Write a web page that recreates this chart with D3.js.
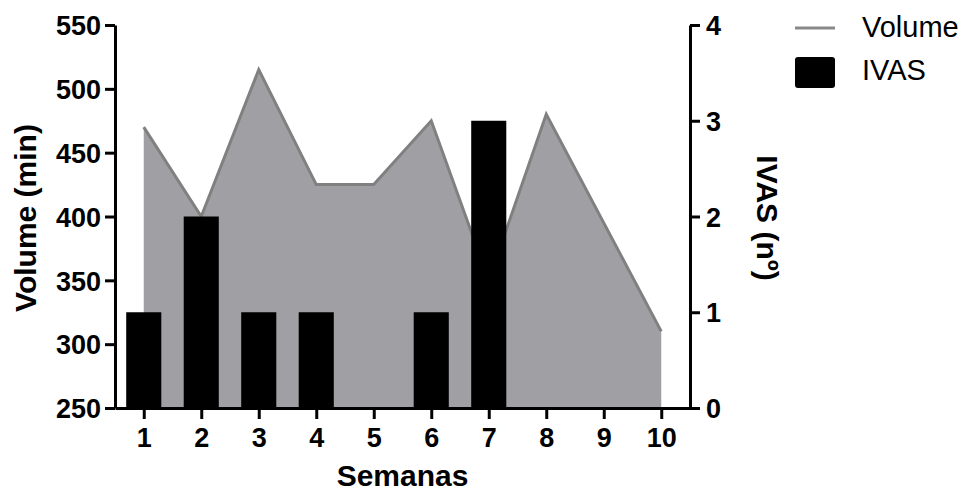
<!DOCTYPE html>
<meta charset="utf-8">
<style>
  body { margin: 0; background: #fff; }
  text { font-family: "Liberation Sans", Arial, sans-serif; }
</style>
<script src="https://d3js.org/d3.v7.min.js"></script>
<div id="chart"></div>
<script>

  // data
  var weeks = [1, 2, 3, 4, 5, 6, 7, 8, 9, 10];
  var volume = [470, 400, 515, 425, 425, 475, 350, 480, 395, 310];
  var ivas = [1, 2, 1, 1, 0, 1, 3, 0, 0, 0];
  var volumeTicks = [250, 300, 350, 400, 450, 500, 550];
  var ivasTicks = [0, 1, 2, 3, 4];

  var width = 966, height = 495;

  var svg = d3.select("#chart")
    .append("svg")
      .attr("width", width)
      .attr("height", height);

  var x = d3.scaleLinear().domain([0.5, 10.5]).range([115, 690]);
  var yL = d3.scaleLinear().domain([250, 550]).range([408, 25]);
  var yR = d3.scaleLinear().domain([0, 4]).range([408, 25]);

  var rows = weeks.map(function(w, i) { return {week: w, vol: volume[i], ivas: ivas[i]}; });

  // volume area + line
  var area = d3.area()
    .x(function(d) { return x(d.week); })
    .y0(yL(250))
    .y1(function(d) { return yL(d.vol); });

  var line = d3.line()
    .x(function(d) { return x(d.week); })
    .y(function(d) { return yL(d.vol); });

  svg.append("path")
    .datum(rows)
    .attr("d", area)
    .attr("fill", "#a09fa4");

  svg.append("path")
    .datum(rows)
    .attr("d", line)
    .attr("fill", "none")
    .attr("stroke", "#808080")
    .attr("stroke-width", 3);

  // IVAS bars
  var barW = x(1.61) - x(1);
  svg.selectAll(".bar")
    .data(rows.filter(function(d) { return d.ivas > 0; }))
    .enter()
    .append("rect")
      .attr("x", function(d) { return x(d.week) - barW / 2; })
      .attr("y", function(d) { return yR(d.ivas); })
      .attr("width", barW)
      .attr("height", function(d) { return yR(0) - yR(d.ivas); })
      .attr("fill", "#000");

  // axes
  function styleAxis(g) {
    g.selectAll("path, line").attr("stroke", "#000").attr("stroke-width", 3);
    g.selectAll("text")
      .attr("fill", "#000")
      .style("font-size", "27px")
      .style("font-weight", "bold");
  }

  svg.append("g")
    .attr("transform", "translate(" + x(0.5) + ",0)")
    .call(d3.axisLeft(yL).tickValues(volumeTicks).tickSize(10).tickSizeOuter(0).tickPadding(4))
    .call(styleAxis)
    .selectAll("text").attr("dy", "0.36em");

  svg.append("g")
    .attr("transform", "translate(" + x(10.5) + ",0)")
    .call(d3.axisRight(yR).tickValues(ivasTicks).tickFormat(d3.format("d")).tickSize(10).tickSizeOuter(0).tickPadding(6))
    .call(styleAxis)
    .selectAll("text").attr("dy", "0.36em");

  svg.append("g")
    .attr("transform", "translate(0," + yL(250) + ")")
    .call(d3.axisBottom(x).tickValues(weeks).tickFormat(d3.format("d")).tickSize(11).tickSizeOuter(0).tickPadding(9))
    .call(styleAxis);

  // axis titles
  svg.append("text")
    .attr("transform", "translate(36,218) rotate(-90)")
    .attr("text-anchor", "middle")
    .style("font-size", "30px")
    .style("font-weight", "bold")
    .text("Volume (min)");

  svg.append("text")
    .attr("transform", "translate(757,218) rotate(90)")
    .attr("text-anchor", "middle")
    .style("font-size", "30px")
    .style("font-weight", "bold")
    .text("IVAS (nº)");

  svg.append("text")
    .attr("x", x(5.5))
    .attr("y", 486)
    .attr("text-anchor", "middle")
    .style("font-size", "30px")
    .style("font-weight", "bold")
    .text("Semanas");

  // legend
  var legend = svg.append("g");
  legend.append("line")
    .attr("x1", 795).attr("x2", 835)
    .attr("y1", 28).attr("y2", 28)
    .attr("stroke", "#888")
    .attr("stroke-width", 3);
  legend.append("text")
    .attr("x", 862).attr("y", 37)
    .style("font-size", "29px")
    .text("Volume");
  legend.append("rect")
    .attr("x", 795).attr("y", 57)
    .attr("width", 40).attr("height", 31)
    .attr("rx", 3)
    .attr("fill", "#000");
  legend.append("text")
    .attr("x", 862).attr("y", 80)
    .style("font-size", "29px")
    .text("IVAS");

</script>
